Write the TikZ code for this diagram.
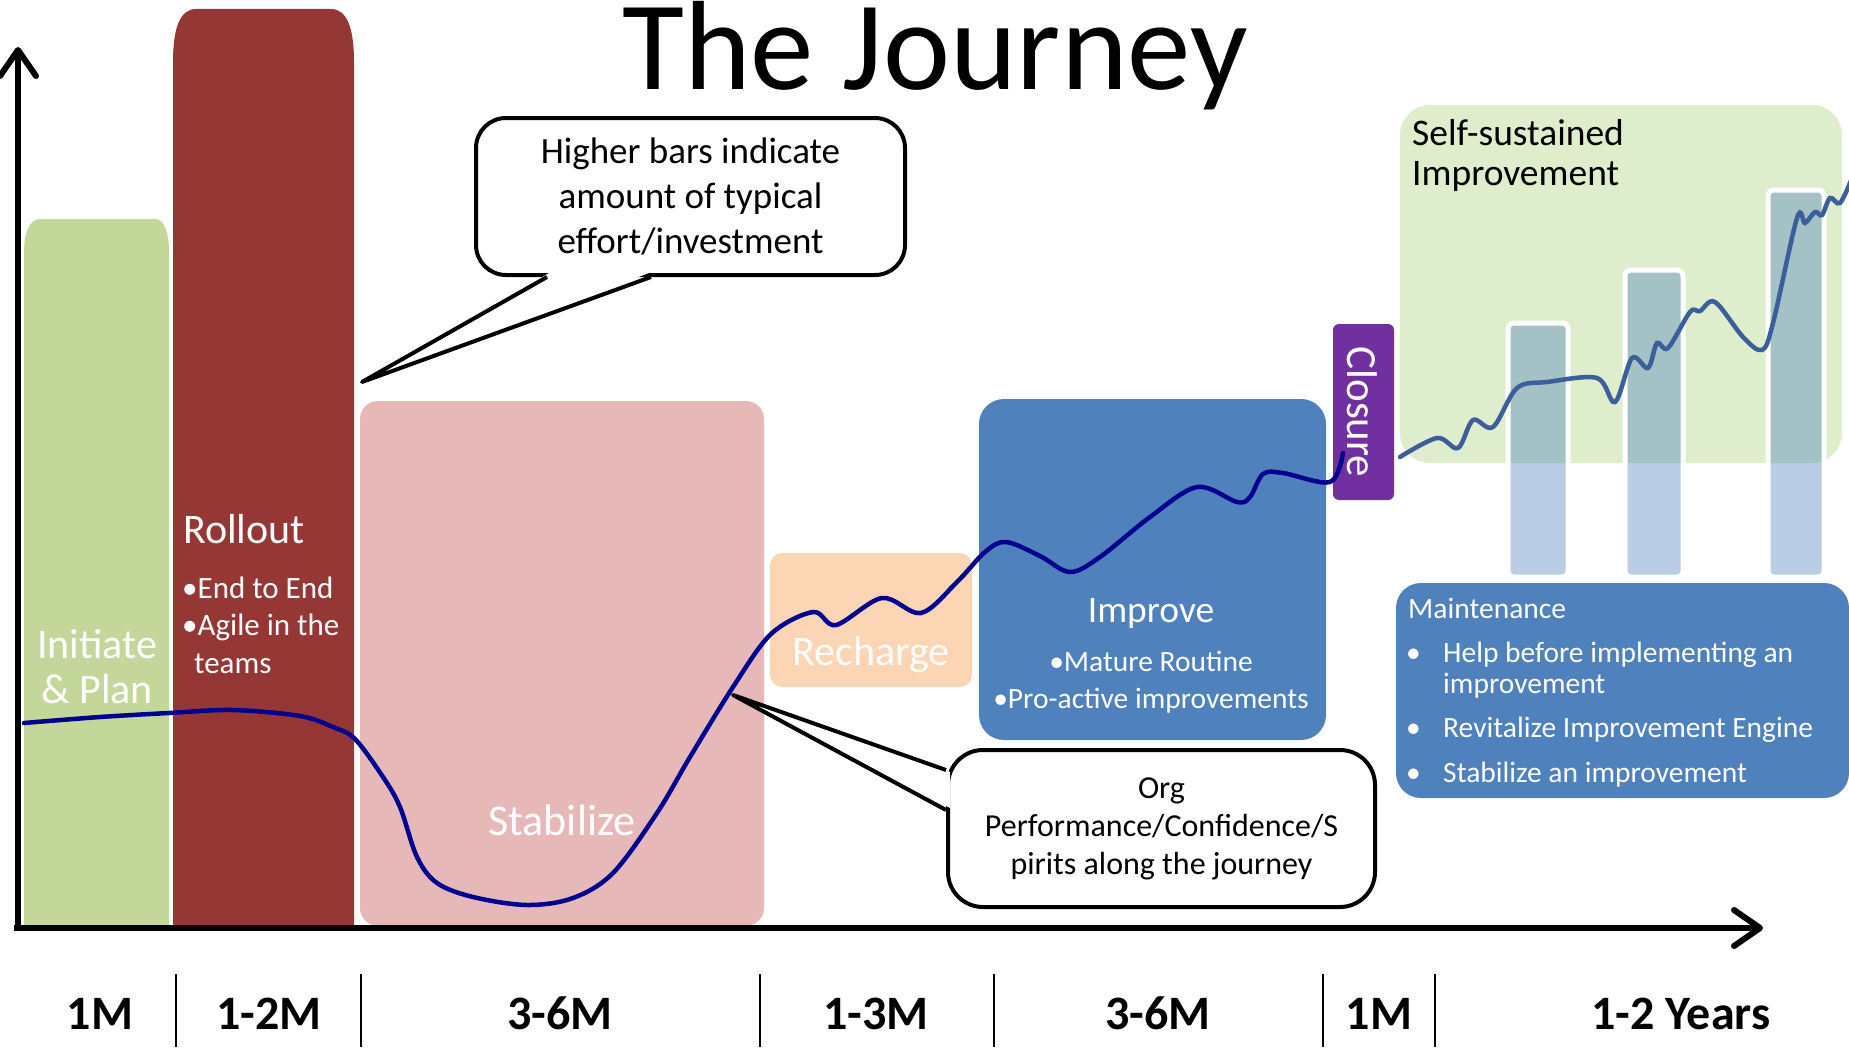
\documentclass[tikz,border=0pt]{standalone}
\usepackage{fontspec}
\setmainfont{Carlito}
\usetikzlibrary{arrows.meta,calc}
\definecolor{initgreen}{HTML}{C4D79B}
\definecolor{rollred}{HTML}{953735}
\definecolor{stabpink}{HTML}{E6B9B8}
\definecolor{rechargepeach}{HTML}{FCD5B5}
\definecolor{improveblue}{HTML}{4F81BD}
\definecolor{closepurple}{HTML}{7030A0}
\definecolor{selfgreen}{HTML}{DEEDCB}
\definecolor{moodnavy}{HTML}{000090}
\definecolor{selfline}{HTML}{3A5F9A}
\newcommand{\pxfont}[2]{\fontsize{#1pt}{#2pt}\selectfont}
\begin{document}
\begin{tikzpicture}[x=1pt,y=-1pt,
    lbl/.style={text=white,inner sep=0pt},
    axis/.style={line width=6pt,-{Straight Barb[length=26pt,width=36pt,round]}},
    hintbox/.style={draw,line width=4pt,rounded corners=30pt,fill=white,align=center,inner sep=0pt},
    hintline/.style={line width=4pt,line join=round},
    mood/.style={line width=4.5pt,line cap=round,smooth,tension=0.55},
    timelbl/.style={font=\bfseries\pxfont{48}{56},anchor=base}]
\useasboundingbox (0,0) rectangle (1849,1049);

% phases
\fill[initgreen] (24,926) -- (24,252) .. controls (24,232) and (30,219) .. (40,219) -- (155,219)
  .. controls (164,219) and (169,232) .. (169,252) -- (169,926) -- cycle;
\fill[rollred] (173,926) -- (173,62) .. controls (173,28) and (180,9) .. (196,9) -- (331,9)
  .. controls (347,9) and (354,28) .. (354,62) -- (354,926) -- cycle;
\fill[stabpink,rounded corners=18pt] (360,401) rectangle (764,926);
\fill[rechargepeach,rounded corners=12pt] (770,553) rectangle (972,687);
\fill[improveblue,rounded corners=25pt] (979,399) rectangle (1326,740);
\fill[closepurple,rounded corners=6pt] (1333,324) rectangle (1394,500);
\fill[selfgreen,rounded corners=30pt] (1400,105) rectangle (1842,463);
\foreach \x/\t/\w in {1508/323/60,1625/270/58,1768/190/56}
  \filldraw[draw=white,line width=5pt,fill=improveblue,fill opacity=0.4,rounded corners=6pt] (\x,\t) rectangle (\x+\w,577);
\fill[improveblue,rounded corners=25pt] (1396,583) rectangle (1849,798);

% labels
\node[anchor=base,inner sep=0pt,text height=82pt,font=\pxfont{127}{130}] (title) at (935,89) {The Journey};
\node[lbl,anchor=base,align=center,font=\pxfont{42}{45}] (initlbl) at (97,703) {Initiate\\\& Plan};
\node[lbl,anchor=base west,font=\pxfont{42}{45}] (rolllbl) at (183,543) {Rollout};
\node[lbl,anchor=base west,align=left,font=\pxfont{31}{37.5}] (rollpts) at (182,673) {•End to End\\•Agile in the\\\hspace*{12pt}teams};
\node[lbl,anchor=base,font=\pxfont{44}{48}] (stablbl) at (562,835) {Stabilize};
\node[lbl,anchor=base,font=\pxfont{42}{44}] (rechlbl) at (871,665) {Recharge};
\node[lbl,anchor=base,font=\pxfont{37.5}{40}] (implbl) at (1151,622) {Improve};
\node[lbl,anchor=base,align=center,font=\pxfont{29.5}{37}] (imppts) at (1151,708) {•Mature Routine\\•Pro-active improvements};
\node[lbl,rotate=-90,font=\pxfont{43}{46}] (closelbl) at (1362,412) {Closure};
\node[anchor=base west,align=left,inner sep=0pt,font=\pxfont{37.5}{40}] (selflbl) at (1412,185) {Self-sustained\\Improvement};
\node[lbl,anchor=base west,font=\pxfont{29.5}{31}] (mainlbl) at (1408,618) {Maintenance};
\node[lbl,anchor=base west,align=left,font=\pxfont{29.5}{31}] (mainpts) at (1406,782)
  {\makebox[37pt][l]{•}Help before implementing an\\\hspace*{37pt}improvement\\[13pt]
   \makebox[37pt][l]{•}Revitalize Improvement Engine\\[14pt]\makebox[37pt][l]{•}Stabilize an improvement};

% curves
\draw[mood,draw=moodnavy] plot coordinates {(24,723) (100,717) (169,713) (233,710) (300,716) (333,727) (355,739)
  (383,777) (400,807) (417,857) (437,883) (473,897) (527,905) (573,898) (613,873) (657,813) (690,757) (733,687)
  (771,634) (813,612) (836,625) (882,598) (921,613) (957,582) (985,552) (1006,542) (1040,556) (1070,572)
  (1100,557) (1150,517) (1197,487) (1237,502) (1250,497) (1263,474) (1283,473) (1330,482) (1343,453)};
\draw[mood,draw=selfline] plot coordinates {(1400,457) (1437,438) (1458,448) (1473,420) (1493,427) (1517,388)
  (1547,382) (1597,378) (1615,402) (1632,358) (1648,368) (1657,343) (1668,348) (1690,312) (1700,311) (1715,302)
  (1743,337) (1762,350) (1773,323) (1797,218) (1805,223) (1815,212) (1822,215) (1830,198) (1840,203) (1852,178)};

% callouts
\node[hintbox,minimum width=429pt,minimum height=157pt,font=\pxfont{37}{45}] (hint) at (690.5,196.5)
  {Higher bars indicate\\amount of typical\\effort/investment};
\coordinate (hinttip) at (362,382);
\coordinate (hintA) at ($(hint.south west)+(73,0)$);
\coordinate (hintB) at ($(hint.south west)+(177,0)$);
\fill[white] ($(hintA)+(2,-4)$) -- (hinttip) -- ($(hintB)+(-2,-4)$) -- cycle;
\draw[hintline] (hintA) -- (hinttip) -- (hintB);

\node[hintbox,rounded corners=35pt,minimum width=427pt,minimum height=157pt,font=\pxfont{32}{38}] (org) at (1161.5,828.5)
  {Org\\Performance/Confidence/S\\pirits along the journey};
\coordinate (orgtip) at (733,695);
\coordinate (orgA) at ($(org.north west)+(0,22)$);
\coordinate (orgB) at ($(org.north west)+(0,62)$);
\fill[white] ($(orgA)+(4,2)$) -- (orgtip) -- ($(orgB)+(4,-2)$) -- cycle;
\draw[hintline] (orgA) -- (orgtip) -- (orgB);

% axes
\draw[axis] (18,926) -- (18,47);
\draw[axis] (14,928) -- (1763,928);

% durations
\foreach \x/\t [count=\i] in {100/1M,269/1-2M,560/3-6M,876/1-3M,1158/3-6M,1379/1M,1681/1-2 Years}
  \node[timelbl] (time\i) at (\x,1029) {\t};
\foreach \x in {176,361,760,994,1323,1435}
  \draw[line width=2pt] (\x,974) -- (\x,1047);
\end{tikzpicture}
\end{document}
